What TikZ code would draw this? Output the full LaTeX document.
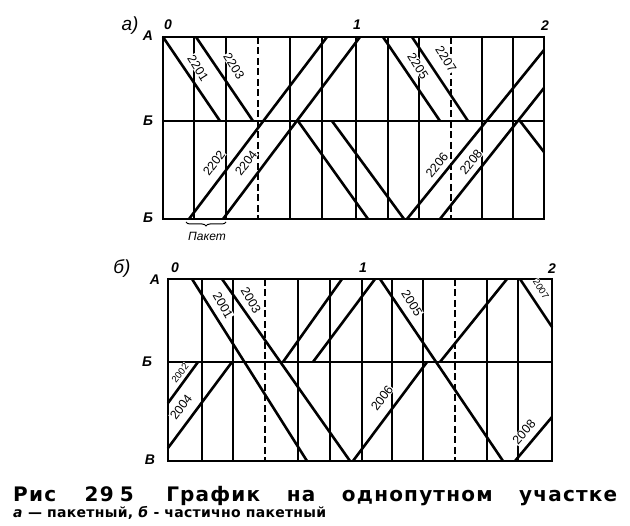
\documentclass[tikz,border=0pt]{standalone}
\usepackage{fontspec}
\setmainfont{Liberation Sans}
\newfontfamily\capfont{DejaVu Sans}
\usetikzlibrary{decorations.pathreplacing}
\begin{document}
\begin{tikzpicture}[x=1pt,y=-1pt,
  hline/.style={line width=1.1pt},
  hbold/.style={line width=1.7pt},
  vline/.style={line width=1.4pt},
  vborder/.style={line width=2pt},
  vdash/.style={line width=1.8pt, dash pattern=on 7pt off 3.5pt},
  train/.style={line width=2.6pt},
  trainno/.style={font=\fontsize{12.5}{12.5}\selectfont, inner sep=0.5pt, fill=white},
  axlbl/.style={font=\fontsize{14}{14}\selectfont\bfseries\itshape, inner sep=0pt},
  panel/.style={font=\fontsize{19}{19}\selectfont\itshape, inner sep=0pt}
]
\useasboundingbox (0,0) rectangle (630,526);
% ================= panel a =================
\foreach \x in {194,226,290,322,356,388,419,482,513}
  \draw[vline] (\x,37) -- (\x,219);
\foreach \x in {258,451}
  \draw[vdash] (\x,37) -- (\x,219);
\foreach \x in {163,544}
  \draw[vborder] (\x,36) -- (\x,220);
\draw[hbold] (163,37) -- (544,37);
\draw[hline] (163,121) -- (544,121);
\draw[hbold] (163,219) -- (544,219);
% trains
\draw[train] (163,37) -- (220,121);
\draw[train] (298,121) -- (368,219);
\draw[train] (196,37) -- (253,121);
\draw[train] (332,121) -- (404,219);
\draw[train] (189,219) -- (327,37);
\draw[train] (223,219) -- (360,37);
\draw[train] (383,37) -- (440,121);
\draw[train] (520,121) -- (544,152);
\draw[train] (412,37) -- (468,121);
\draw[train] (407,219) -- (544,50);
\draw[train] (440,219) -- (544,88);
% train numbers
\node[trainno, rotate=-58] (n2201) at (198,68) {2201};
\node[trainno, rotate=-58] (n2203) at (234,66) {2203};
\node[trainno, rotate=-58] (n2205) at (418,66) {2205};
\node[trainno, rotate=-58] (n2207) at (446,59) {2207};
\node[trainno, rotate=53] (n2202) at (214,163) {2202};
\node[trainno, rotate=53] (n2204) at (246,163) {2204};
\node[trainno, rotate=51] (n2206) at (437,165) {2206};
\node[trainno, rotate=51] (n2208) at (471,162) {2208};
% axis labels
\node[panel] (pa) at (130,26) {а)};
\node[axlbl] (aA) at (148,36) {А};
\node[axlbl] (aB) at (148,121) {Б};
\node[axlbl] (aC) at (148,218) {Б};
\node[axlbl] (a0) at (168,25) {0};
\node[axlbl] (a1) at (357,25) {1};
\node[axlbl] (a2) at (545,26) {2};
% packet brace
\coordinate (pk1) at (186,222);
\coordinate (pk2) at (226,222);
\draw[line width=1pt, decorate, decoration={brace, mirror, amplitude=4pt}] (pk1) -- (pk2);
\node[font=\fontsize{12}{12}\selectfont\itshape, inner sep=0pt] (pak) at (207,236) {Пакет};
% ================= panel b =================
\foreach \x in {202,233,298,330,362,392,423,487,518}
  \draw[vline] (\x,279) -- (\x,461);
\foreach \x in {265,455}
  \draw[vdash] (\x,279) -- (\x,461);
\foreach \x in {168,552}
  \draw[vborder] (\x,278) -- (\x,462);
\draw[hbold] (168,279) -- (552,279);
\draw[hline] (168,362) -- (552,362);
\draw[hbold] (168,461) -- (552,461);
% trains
\draw[train] (192,279) -- (307,461);
\draw[train] (222,279) -- (350,461);
\draw[train] (168,403) -- (198,362);
\draw[train] (283,362) -- (342,279);
\draw[train] (168,448) -- (232,362);
\draw[train] (313,362) -- (375,279);
\draw[train] (380,279) -- (503,461);
\draw[train] (353,461) -- (427,362);
\draw[train] (440,362) -- (507,279);
\draw[train] (520,279) -- (552,327);
\draw[train] (515,461) -- (552,417);
% train numbers
\node[trainno, rotate=-60] (n2001) at (223,305) {2001};
\node[trainno, rotate=-60] (n2003) at (251,300) {2003};
\node[trainno, rotate=-58] (n2005) at (412,303) {2005};
\node[trainno, rotate=-58, font=\fontsize{9.5}{9.5}\selectfont] (n2007) at (541,289) {2007};
\node[trainno, rotate=52, font=\fontsize{9.5}{9.5}\selectfont] (n2002) at (180,373) {2002};
\node[trainno, rotate=53] (n2004) at (181,407) {2004};
\node[trainno, rotate=53] (n2006) at (382,398) {2006};
\node[trainno, rotate=49] (n2008) at (524,432) {2008};
% axis labels
\node[panel] (pb) at (122,269) {б)};
\node[axlbl] (bA) at (155,280) {А};
\node[axlbl] (bB) at (147,362) {Б};
\node[axlbl] (bC) at (150,460) {В};
\node[axlbl] (b0) at (175,268) {0};
\node[axlbl] (b1) at (363,268) {1};
\node[axlbl] (b2) at (552,269) {2};
% ================= caption =================
\node[anchor=base west, inner sep=0pt, font=\capfont\fontsize{20}{20}\selectfont\bfseries] (cap1) at (13,502)
  {\addfontfeature{LetterSpace=6}\makebox[604pt][s]{Рис\hspace{2pt} 29\hspace{6pt}5\hspace{6pt} График на однопутном участке}};
\node[anchor=base west, inner sep=0pt, font=\capfont\fontsize{14}{14}\selectfont\bfseries] (cap2) at (13,518)
  {\addfontfeature{LetterSpace=2}\textit{а} — пакетный, \textit{б} - частично пакетный};
\end{tikzpicture}
\end{document}
